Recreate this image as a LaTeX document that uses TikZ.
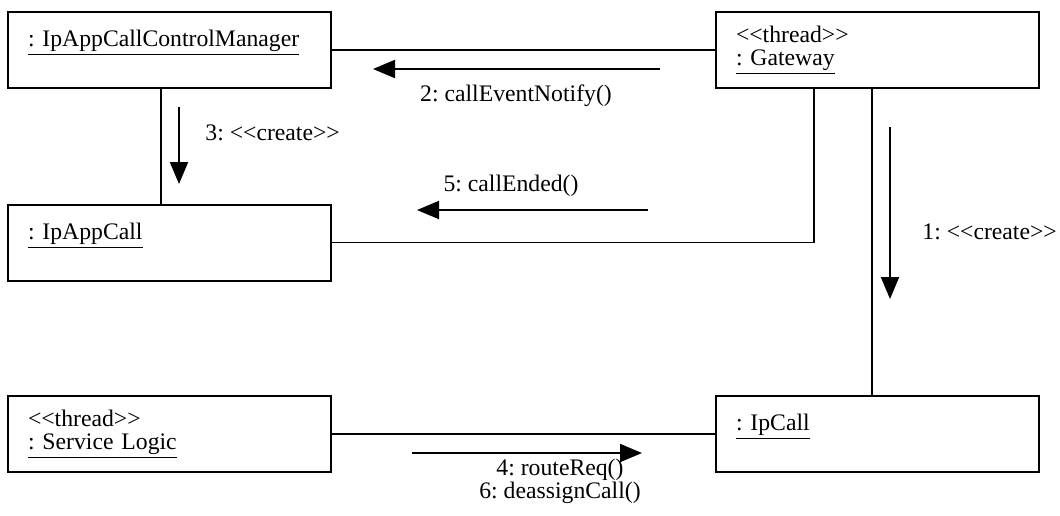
\documentclass[tikz,border=0pt]{standalone}
\usepackage{fontspec}
\setmainfont{Liberation Serif}
\usepackage{tikz}
\usetikzlibrary{arrows.meta}
\newcommand{\stereo}[1]{<\kern0pt<#1>\kern0pt>}
\frenchspacing

\begin{document}
\begin{tikzpicture}[x=0.5pt,y=-0.5pt,
    font=\fontsize{11.85pt}{11.5pt}\selectfont,
    object/.style={draw,line width=1pt,minimum width=161.5pt,minimum height=38pt,
        text width=141.5pt,align=left,inner xsep=10pt,inner ysep=0pt},
    link/.style={line width=0.8pt},
    msg/.style={line width=1pt,-{Triangle[length=11pt,width=9pt]}},
    lbl/.style={inner sep=0pt}]
    \useasboundingbox (0,0) rectangle (1060,515);
    \node[object] (mgr) at (169.5,50) {\underline{: IpAppCallControlManager}\\ \mbox{}};
    \node[object] (gw) at (877.5,50) {\stereo{thread}\\ \underline{: Gateway}};
    \node[object] (appcall) at (169.5,242.5) {\underline{: IpAppCall}\\ \mbox{}};
    \node[object] (svclogic) at (169.5,434) {\stereo{thread}\\ \underline{: Service Logic}};
    \node[object] (ipcall) at (877.5,434) {\underline{: IpCall}\\ \mbox{}};
    \draw[link] (mgr) -- (gw);
    \draw[link] ([xshift=-4.25pt]mgr.south) -- ([xshift=-4.25pt]appcall.north);
    \draw[link] ([xshift=-31.75pt]gw.south) |- (appcall.east);
    \draw[link] ([xshift=-2.75pt]gw.south) -- ([xshift=-2.75pt]ipcall.north);
    \draw[link] (svclogic) -- (ipcall);
    \draw[msg] (660,69) -- (373,69);
    \node[lbl] (m2) at (516,96) {2: callEventNotify()};
    \draw[msg] (179,107) -- (179,184);
    \node[lbl,anchor=west] (m3) at (205,133) {3: \stereo{create}};
    \draw[msg] (648,210) -- (417,210);
    \node[lbl] (m5) at (511,186) {5: callEnded()};
    \draw[msg] (890,127) -- (890,299);
    \node[lbl,anchor=west] (m1) at (922,232) {1: \stereo{create}};
    \draw[msg] (412,453) -- (642,453);
    \node[lbl,align=center] (m4) at (560,481) {4: routeReq()\\6: deassignCall()};
\end{tikzpicture}
\end{document}
